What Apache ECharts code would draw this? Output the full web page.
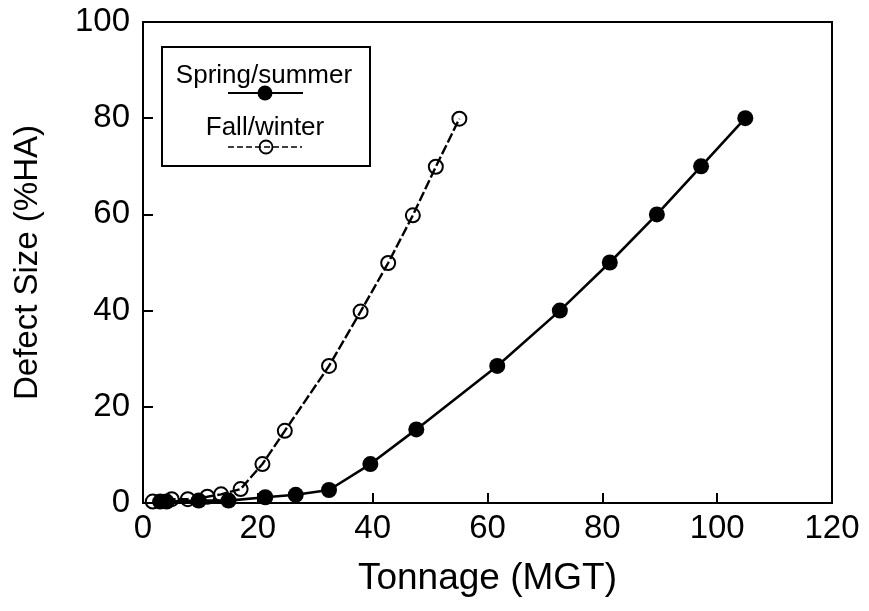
<!DOCTYPE html>
<html>
<head>
<meta charset="utf-8">
<script src="https://cdn.jsdelivr.net/npm/echarts@6/dist/echarts.min.js"></script>
<style>
  html, body { margin: 0; padding: 0; background: #fff; }
  #chart { width: 869px; height: 611px; }
</style>
</head>
<body>
<div id="chart"></div>
<script>
// Defect growth vs. accumulated tonnage, by season
var springTonnage = [3.0, 4.1, 9.7, 14.9, 21.3, 26.6, 32.4, 39.6, 47.6, 61.7, 72.6, 81.3, 89.5, 97.2, 104.9];
var springSize    = [0.3, 0.3, 0.5, 0.5, 1.2, 1.7, 2.7, 8.1, 15.3, 28.5, 40, 50, 60, 70, 80];

var fallTonnage = [1.7, 5.0, 7.8, 11.2, 13.6, 17.0, 20.8, 24.7, 32.4, 37.9, 42.7, 47.0, 51.0, 55.1];
var fallSize    = [0.3, 0.8, 0.8, 1.3, 1.8, 2.9, 8.1, 15.0, 28.5, 39.8, 49.9, 59.8, 69.9, 79.9];

var xTicks = [0, 20, 40, 60, 80, 100, 120];
var yTicks = [0, 20, 40, 60, 80, 100];

var seriesNames = ['Spring/summer', 'Fall/winter'];
var xTitle = 'Tonnage (MGT)';
var yTitle = 'Defect Size (%HA)';

function pairs(xs, ys) {
  return xs.map(function (x, i) { return [x, ys[i]]; });
}

var FONT = '"Liberation Sans", Arial, Helvetica, sans-serif';

var chart = echarts.init(document.getElementById('chart'), null, { renderer: 'canvas' });

chart.setOption({
  animation: false,
  backgroundColor: '#ffffff',
  grid: {
    left: 143, right: 37, top: 22, bottom: 108,
    show: true, borderColor: '#000', borderWidth: 2, backgroundColor: 'transparent'
  },
  xAxis: {
    type: 'value',
    min: xTicks[0], max: xTicks[xTicks.length - 1], interval: 20,
    name: xTitle, nameLocation: 'middle', nameGap: 57,
    nameTextStyle: { fontFamily: FONT, fontSize: 37, color: '#000' },
    axisLine: { show: true, lineStyle: { color: '#000', width: 2 } },
    axisTick: { show: true, inside: true, length: 10, lineStyle: { color: '#000', width: 2 } },
    axisLabel: { fontFamily: FONT, fontSize: 33, color: '#000', margin: 9 },
    splitLine: { show: false }
  },
  yAxis: {
    type: 'value',
    min: yTicks[0], max: yTicks[yTicks.length - 1], interval: 20,
    name: yTitle, nameLocation: 'middle', nameGap: 99,
    nameTextStyle: { fontFamily: FONT, fontSize: 33, color: '#000' },
    axisLine: { show: true, lineStyle: { color: '#000', width: 2 } },
    axisTick: { show: true, inside: true, length: 10, lineStyle: { color: '#000', width: 2 } },
    axisLabel: { fontFamily: FONT, fontSize: 33, color: '#000', margin: 13 },
    splitLine: { show: false }
  },
  series: [
    {
      name: seriesNames[0],
      type: 'line',
      data: pairs(springTonnage, springSize),
      symbol: 'circle',
      symbolSize: 16,
      lineStyle: { color: '#000', width: 2.6, type: 'solid' },
      itemStyle: { color: '#000', borderColor: '#000', borderWidth: 0 },
      z: 3
    },
    {
      name: seriesNames[1],
      type: 'line',
      data: pairs(fallTonnage, fallSize),
      symbol: 'circle',
      symbolSize: 14,
      lineStyle: { color: '#000', width: 2.4, type: [10, 3] },
      itemStyle: { color: 'rgba(0,0,0,0)', borderColor: '#000', borderWidth: 2 },
      z: 4
    }
  ],
  graphic: [
    // legend frame
    { type: 'rect', shape: { x: 162, y: 47, width: 208, height: 119 },
      style: { fill: '#fff', stroke: '#000', lineWidth: 2 }, z: 10 },
    { type: 'text', x: 264, y: 76, z: 11,
      style: { text: seriesNames[0], font: '26px ' + FONT, fill: '#000', textAlign: 'center', textVerticalAlign: 'middle' } },
    { type: 'line', shape: { x1: 228, y1: 93, x2: 303, y2: 93 },
      style: { stroke: '#000', lineWidth: 2 }, z: 11 },
    { type: 'circle', shape: { cx: 265, cy: 93, r: 7.5 },
      style: { fill: '#000', stroke: '#000', lineWidth: 0 }, z: 12 },
    { type: 'text', x: 265, y: 128, z: 11,
      style: { text: seriesNames[1], font: '26px ' + FONT, fill: '#000', textAlign: 'center', textVerticalAlign: 'middle' } },
    { type: 'line', shape: { x1: 228, y1: 147, x2: 302, y2: 147 },
      style: { stroke: '#000', lineWidth: 1.6, lineDash: [6, 3] }, z: 11 },
    { type: 'circle', shape: { cx: 266, cy: 147, r: 6.5 },
      style: { fill: 'rgba(0,0,0,0)', stroke: '#000', lineWidth: 1.8 }, z: 12 }
  ]
});
</script>
</body>
</html>
